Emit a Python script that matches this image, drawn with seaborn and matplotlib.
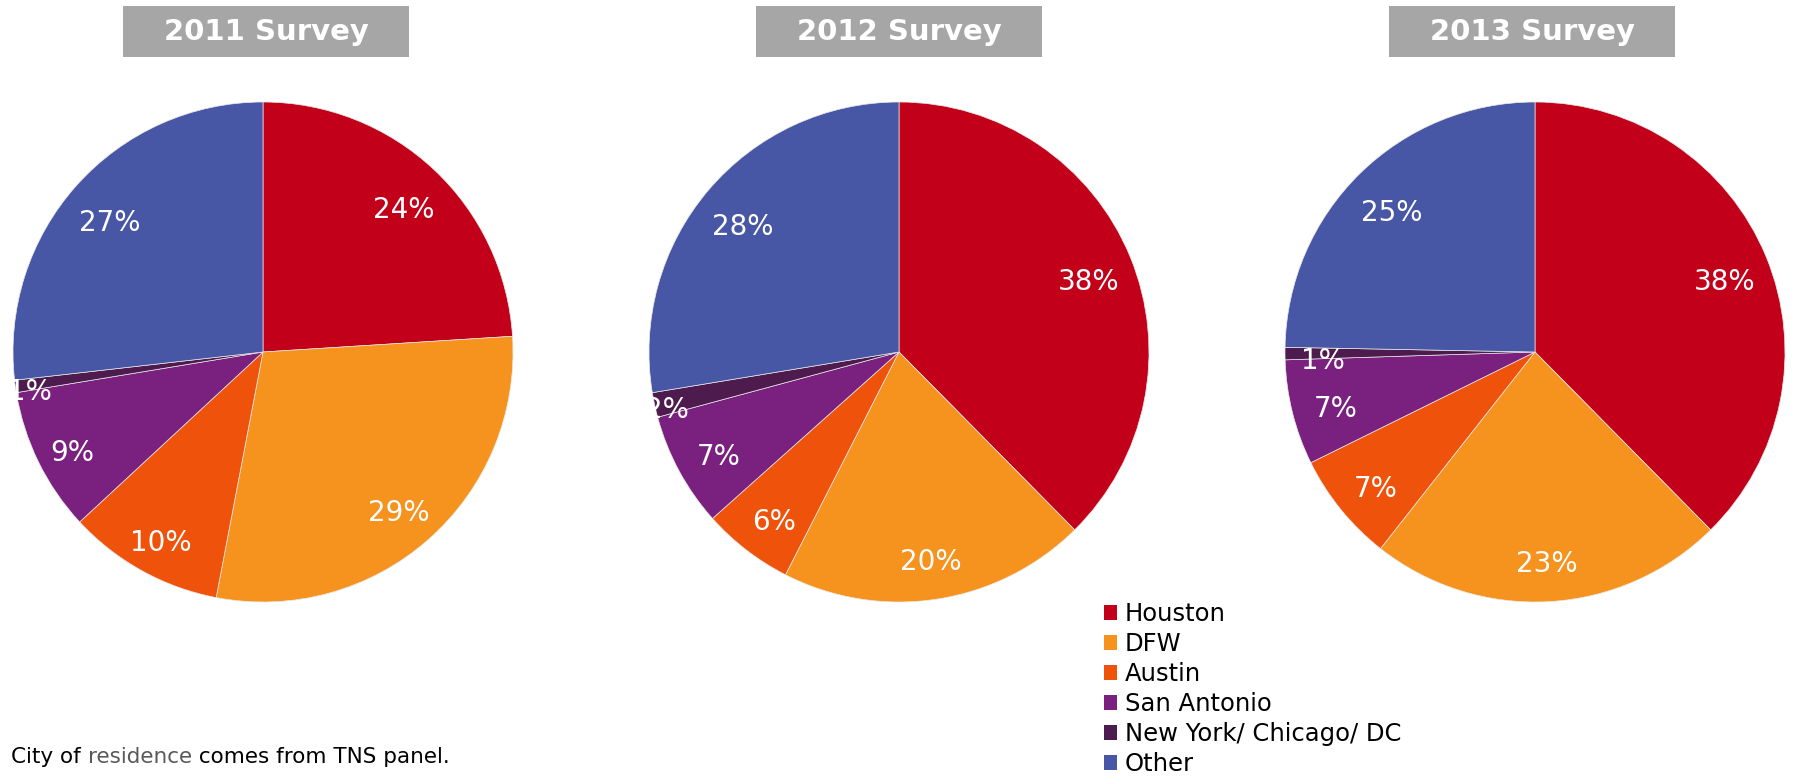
import matplotlib
matplotlib.use("Agg")
import matplotlib.pyplot as plt
import numpy as np
import seaborn as sns
from matplotlib.patches import Patch, Rectangle

sns.set_theme(style="white")
plt.rcParams['font.family'] = ['DejaVu Sans']

cities = ["Houston", "DFW", "Austin", "San Antonio", "New York/ Chicago/ DC", "Other"]
titles = ["2011 Survey", "2012 Survey", "2013 Survey"]
share_2011 = [24.0, 29.0, 10.1, 9.3, 0.8, 26.8]
share_2012 = [37.6, 19.9, 5.9, 7.4, 1.6, 27.6]
share_2013 = [37.6, 23.0, 7.1, 6.8, 0.8, 24.7]
surveys = [share_2011, share_2012, share_2013]

palette = sns.color_palette(["#C3001A", "#F6921E", "#EF530B", "#7A207E", "#4E1B4E", "#4756A5"])

W, H = 1793, 776
fig = plt.figure(figsize=(W / 100, H / 100), dpi=100)

centers_x = [263, 899, 1535]
title_x = [266, 899, 1532]
cy, rad = 352, 250
# per-slice label radius (small slices sit further out)
label_r = [[0.82, 0.82, 0.84, 0.85, 0.94, 0.82],
           [0.82, 0.82, 0.82, 0.82, 0.95, 0.82],
           [0.82, 0.82, 0.82, 0.82, 0.85, 0.82]]

for i, (vals, title) in enumerate(zip(surveys, titles)):
    cx = centers_x[i]
    ax = fig.add_axes([(cx - rad) / W, (H - cy - rad) / H, 2 * rad / W, 2 * rad / H])
    wedges, texts, autotexts = ax.pie(vals, colors=palette, startangle=90, counterclock=False,
                                      autopct="%.0f%%", pctdistance=0.82,
                                      wedgeprops=dict(edgecolor="#E8E8E8", linewidth=0.5),
                                      textprops=dict(color="white", fontsize=20))
    for w, t, r in zip(wedges, autotexts, label_r[i]):
        ang = np.deg2rad((w.theta1 + w.theta2) / 2)
        t.set_position((r * np.cos(ang), r * np.sin(ang) - 0.03))
    ax.set_xlim(-1, 1)
    ax.set_ylim(-1, 1)
    ax.set_aspect("equal")
    ax.axis("off")

    # grey title box
    bx = title_x[i]
    fig.patches.append(Rectangle(((bx - 143) / W, (H - 57) / H), 286 / W, 51 / H,
                                 transform=fig.transFigure, facecolor="#A6A6A6",
                                 edgecolor="none"))
    fig.text(bx / W, (H - 31.5) / H, title, ha="center", va="center",
             color="white", fontsize=21, fontweight="bold")

handles = [Patch(facecolor=c, edgecolor="none") for c in palette]
leg = fig.legend(handles, cities, loc="upper left", bbox_to_anchor=(1104 / W, (H - 602) / H),
                 frameon=False, fontsize=17.5, handlelength=0.55, handleheight=0.55,
                 handletextpad=0.3, labelspacing=0.25, borderaxespad=0, borderpad=0)
for t in leg.get_texts():
    t.set_color("black")

# footnote with grey word
fig.canvas.draw()
renderer = fig.canvas.get_renderer()
x = 11 / W
y = (H - 757) / H
for part, col in [("City of ", "black"), ("residence", "#595959"), (" comes from TNS panel.", "black")]:
    t = fig.text(x, y, part, ha="left", va="center", fontsize=15.5, color=col)
    bb = t.get_window_extent(renderer=renderer)
    x = bb.x1 / W

fig.savefig("out.png", dpi=100)
